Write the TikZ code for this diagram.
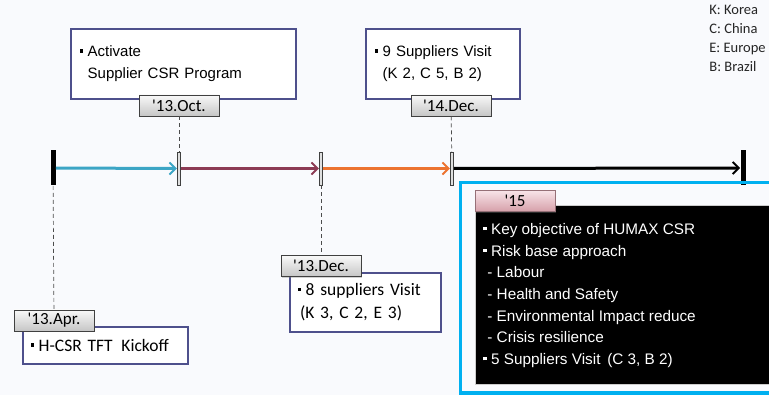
\documentclass[tikz,border=0pt]{standalone}
\usepackage{fontspec}
\setmainfont{Liberation Sans}
\newfontfamily\gothic{Carlito}
\usetikzlibrary{positioning,shadows,arrows.meta}

\definecolor{bgcol}{RGB}{249,250,253}
\definecolor{boxline}{RGB}{78,80,140}
\definecolor{seg1}{RGB}{60,165,197}
\definecolor{seg2}{RGB}{140,58,84}
\definecolor{seg3}{RGB}{236,115,48}
\definecolor{frame}{RGB}{0,176,240}
\definecolor{pinktop}{RGB}{248,228,232}
\definecolor{pinkbot}{RGB}{214,160,170}
\newcommand{\bul}{\rule[0.28em]{3.2pt}{3.2pt}\hspace{4.5pt}}

\begin{document}
\begin{tikzpicture} [x=1pt, y=-1pt, thick,
    evbox/.style={draw=boxline,fill=white,line width=1.4pt,align=left,inner xsep=9pt,font=\fontsize{15}{22}\selectfont},
    evboxk/.style={evbox,font=\gothic\fontsize{17.5}{23}\selectfont,inner xsep=8pt},
    datebox/.style={draw=black!75,line width=0.7pt,top color=gray!5,bottom color=gray!45,
        minimum width=80pt,minimum height=21pt,inner sep=0pt,font=\gothic\fontsize{17}{17}\selectfont,
        drop shadow={shadow xshift=1pt,shadow yshift=-1.5pt,opacity=0.35}},
    tick/.style={draw=black!75,fill=gray!25,line width=0.7pt,minimum width=3.5pt,minimum height=33pt,inner sep=0pt},
    endbar/.style={fill=black,minimum width=5pt,minimum height=35pt,inner sep=0pt},
    seg/.style={line width=3pt,-{Straight Barb[length=6pt,width=12pt,line width=2pt]}},
    guide/.style={draw=black!70,line width=0.7pt,dash pattern=on 4pt off 3pt}]

\useasboundingbox (0,0) rectangle (769,395);
\fill[bgcol] (0,0) rectangle (769,395);

% timeline
\node[endbar] (start) at (53,168) {};
\node[tick] (oct) at (179,168.5) {};
\node[tick] (dec) at (321,168.5) {};
\node[tick] (dec14) at (452,168.5) {};
\node[endbar] (end) at (743,168) {};

\draw[seg,seg1] (start) -- (oct.west);
\draw[seg,seg2] (oct.east) -- (dec.west);
\draw[seg,seg3] (dec.east) -- (dec14.west);
\draw[seg,black] (dec14.east) -- (end.west);

% events above
\node[evbox,minimum width=225pt,minimum height=70pt,text width=207pt] (act) at (183.5,64)
    {\bul Activate\\\hspace*{7.7pt}Supplier CSR Program};
\node[datebox] (octlab) at (179,105.5) {'13.Oct.};
\draw[guide] (octlab) -- (oct);

\node[evbox,minimum width=154pt,minimum height=70pt,text width=136pt] (visit9) at (443,64)
    {\bul 9 Suppliers Visit\\\hspace*{7.7pt}(K 2, C 5, B 2)};
\node[datebox] (declab14) at (451,105.5) {'14.Dec.};
\draw[guide] (declab14) -- (dec14);

% events below
\node[evboxk,minimum width=165pt,minimum height=37pt,text width=149pt] (kick) at (105.5,345.5)
    {\bul H-CSR TFT\, Kickoff};
\node[datebox] (aprlab) at (54,320.5) {'13.Apr.};
\draw[guide] (start) -- (aprlab);

\node[evboxk,minimum width=151pt,minimum height=59pt,text width=135pt] (visit8) at (365.5,302.5)
    {\bul 8 suppliers Visit\\\hspace*{2pt}(K 3, C 2, E 3)};
\node[datebox] (declab) at (321,266) {'13.Dec.};
\draw[guide] (dec) -- (declab);

% 2015 block
\draw[frame,line width=3.5pt] (460.5,182.5) rectangle (790,393);
\node[fill=black,draw=gray!40,line width=0.8pt,minimum width=320pt,minimum height=179pt,anchor=north west,inner sep=0pt]
    (goal) at (475,205) {};
\node[anchor=north west,text=white,align=left,inner sep=0pt,font=\fontsize{15.3}{21.7}\selectfont] (goaltext) at (483,223)
    {\bul Key objective of HUMAX CSR\\
     \bul Risk base approach\\
     \hspace*{4pt}- Labour\\
     \hspace*{4pt}- Health and Safety\\
     \hspace*{4pt}- Environmental Impact reduce\\
     \hspace*{4pt}- Crisis resilience\\
     \bul 5 Suppliers Visit\, (C 3, B 2)};
\node[datebox,draw=pinkbot!70!black,top color=pinktop,bottom color=pinkbot] (y15) at (515,201) {'15};

% legend
\node[anchor=north west,align=left,inner sep=0pt,text=black!85,font=\gothic\fontsize{14.5}{19}\selectfont] (legend) at (709,5)
    {K: Korea\\C: China\\E: Europe\\B: Brazil};
\end{tikzpicture}
\end{document}
